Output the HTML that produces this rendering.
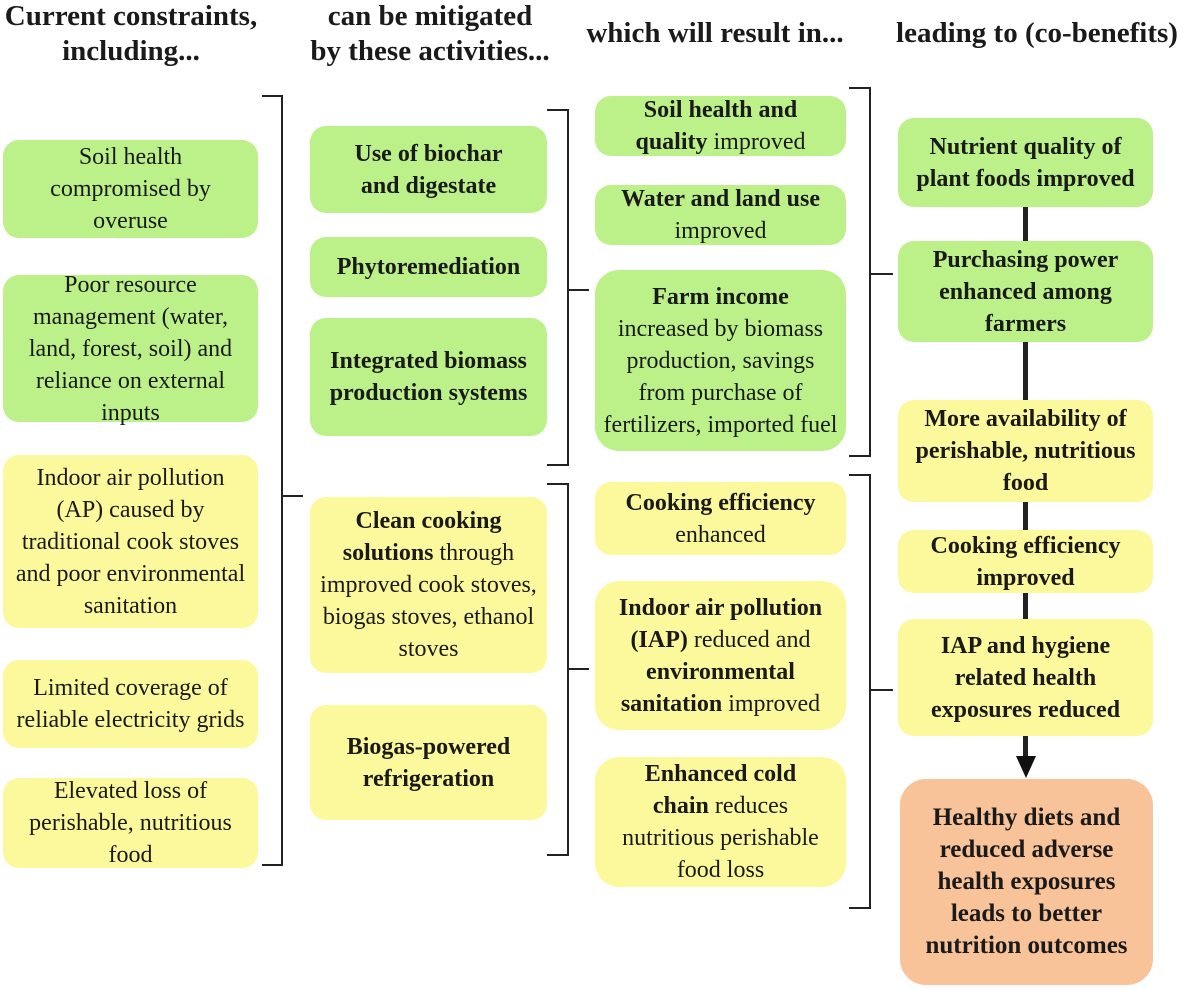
<!DOCTYPE html>
<html><head><meta charset="utf-8"><style>
body{margin:0;width:1199px;height:989px;background:#fff;position:relative;overflow:hidden;font-family:"Liberation Serif",serif;color:#1a1a1a}
.b{position:absolute;border-radius:16px;display:flex;align-items:center;justify-content:center;text-align:center;font-size:24px;line-height:32px;box-sizing:border-box;padding:0;white-space:nowrap}
.g{background:#bcf18a}.y{background:#fbf99c}.o{background:#f8c399;border-radius:26px}
b{font-weight:bold}
.h{position:absolute;font-weight:bold;font-size:29px;line-height:35px;text-align:center;white-space:nowrap}
.l{position:absolute;background:#222}
</style></head><body>
<div class="h" style="left:0;top:-1px;width:262px">Current constraints,<br>including...</div>
<div class="h" style="left:290px;top:-1px;width:280px">can be mitigated<br>by these activities...</div>
<div class="h" style="left:565px;top:16px;width:300px">which will result in...</div>
<div class="h" style="left:875px;top:16px;width:324px">leading to (co-benefits)</div>

<div class="b g" style="left:3px;top:140px;width:255px;height:98px">Soil health<br>compromised by<br>overuse</div>
<div class="b g" style="left:3px;top:275px;width:255px;height:147px">Poor resource<br>management (water,<br>land, forest, soil) and<br>reliance on external<br>inputs</div>
<div class="b y" style="left:3px;top:455px;width:255px;height:173px">Indoor air pollution<br>(AP) caused by<br>traditional cook stoves<br>and poor environmental<br>sanitation</div>
<div class="b y" style="left:3px;top:660px;width:255px;height:88px">Limited coverage of<br>reliable electricity grids</div>
<div class="b y" style="left:3px;top:778px;width:255px;height:90px">Elevated loss of<br>perishable, nutritious<br>food</div>

<div class="l" style="left:262px;top:95px;width:21px;height:2px"></div>
<div class="l" style="left:262px;top:864px;width:21px;height:2px"></div>
<div class="l" style="left:281px;top:95px;width:2px;height:771px"></div>
<div class="l" style="left:281px;top:495px;width:22px;height:2px"></div>

<div class="b g" style="left:310px;top:126px;width:237px;height:87px"><b>Use of biochar<br>and digestate</b></div>
<div class="b g" style="left:310px;top:237px;width:237px;height:60px"><b>Phytoremediation</b></div>
<div class="b g" style="left:310px;top:318px;width:237px;height:118px"><b>Integrated biomass<br>production systems</b></div>
<div class="b y" style="left:310px;top:497px;width:237px;height:176px"><span><b>Clean cooking<br>solutions</b> through<br>improved cook stoves,<br>biogas stoves, ethanol<br>stoves</span></div>
<div class="b y" style="left:310px;top:705px;width:237px;height:115px"><b>Biogas-powered<br>refrigeration</b></div>

<div class="l" style="left:547px;top:109px;width:22px;height:2px"></div>
<div class="l" style="left:547px;top:464px;width:22px;height:2px"></div>
<div class="l" style="left:567px;top:109px;width:2px;height:357px"></div>
<div class="l" style="left:567px;top:289px;width:22px;height:2px"></div>
<div class="l" style="left:547px;top:483px;width:22px;height:2px"></div>
<div class="l" style="left:547px;top:854px;width:22px;height:2px"></div>
<div class="l" style="left:567px;top:483px;width:2px;height:373px"></div>
<div class="l" style="left:567px;top:668px;width:22px;height:2px"></div>

<div class="b g" style="left:595px;top:96px;width:251px;height:60px"><span><b>Soil health and<br>quality</b> improved</span></div>
<div class="b g" style="left:595px;top:185px;width:251px;height:60px"><span><b>Water and land use</b><br>improved</span></div>
<div class="b g" style="left:595px;top:270px;width:251px;height:181px;border-radius:24px"><span><b>Farm income</b><br>increased by biomass<br>production, savings<br>from purchase of<br>fertilizers, imported fuel</span></div>
<div class="b y" style="left:595px;top:482px;width:251px;height:73px"><span><b>Cooking efficiency</b><br>enhanced</span></div>
<div class="b y" style="left:595px;top:581px;width:251px;height:149px;border-radius:24px"><span><b>Indoor air pollution<br>(IAP)</b> reduced and<br><b>environmental<br>sanitation</b> improved</span></div>
<div class="b y" style="left:595px;top:757px;width:251px;height:130px;border-radius:24px"><span><b>Enhanced cold<br>chain</b> reduces<br>nutritious perishable<br>food loss</span></div>

<div class="l" style="left:849px;top:87px;width:22px;height:2px"></div>
<div class="l" style="left:849px;top:455px;width:22px;height:2px"></div>
<div class="l" style="left:869px;top:87px;width:2px;height:370px"></div>
<div class="l" style="left:869px;top:273px;width:24px;height:2px"></div>
<div class="l" style="left:849px;top:474px;width:22px;height:2px"></div>
<div class="l" style="left:849px;top:907px;width:22px;height:2px"></div>
<div class="l" style="left:869px;top:474px;width:2px;height:435px"></div>
<div class="l" style="left:869px;top:689px;width:24px;height:2px"></div>

<div class="l" style="left:1023px;top:200px;width:5px;height:560px"></div>
<div style="position:absolute;left:1016px;top:756px;width:0;height:0;border-left:10px solid transparent;border-right:10px solid transparent;border-top:22px solid #111"></div>

<div class="b g" style="left:898px;top:118px;width:255px;height:89px"><b>Nutrient quality of<br>plant foods improved</b></div>
<div class="b g" style="left:898px;top:241px;width:255px;height:101px"><b>Purchasing power<br>enhanced among<br>farmers</b></div>
<div class="b y" style="left:898px;top:400px;width:255px;height:102px"><b>More availability of<br>perishable, nutritious<br>food</b></div>
<div class="b y" style="left:898px;top:530px;width:255px;height:63px"><b>Cooking efficiency<br>improved</b></div>
<div class="b y" style="left:898px;top:619px;width:255px;height:117px"><b>IAP and hygiene<br>related health<br>exposures reduced</b></div>
<div class="b o" style="left:900px;top:779px;width:253px;height:206px;font-size:25px;line-height:32px"><b>Healthy diets and<br>reduced adverse<br>health exposures<br>leads to better<br>nutrition outcomes</b></div>
</body></html>
